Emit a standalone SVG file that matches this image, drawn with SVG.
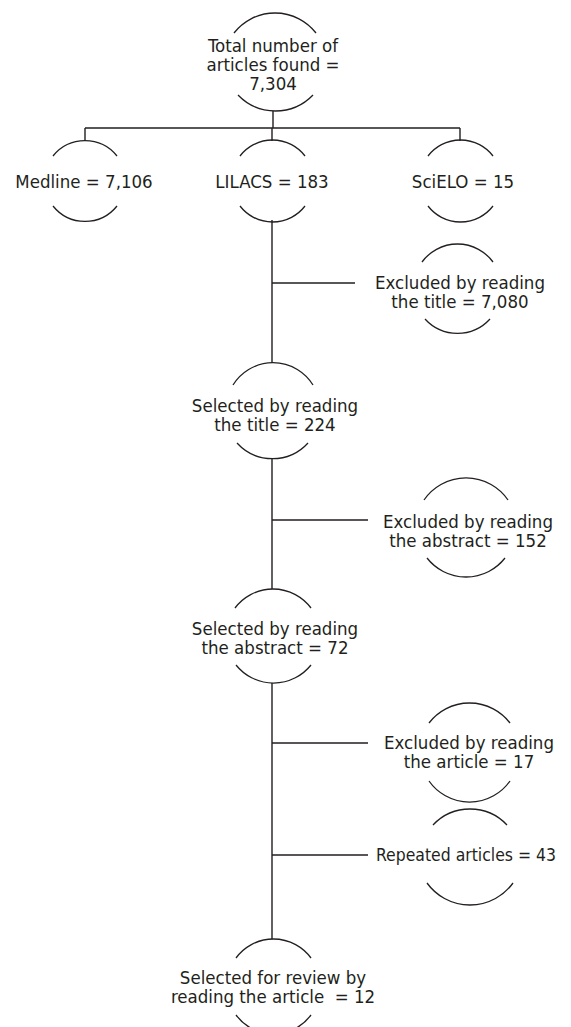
<svg xmlns="http://www.w3.org/2000/svg" width="571" height="1027" viewBox="0 0 571 1027">
<style>
.arc{fill:none;stroke:#231f20;stroke-width:1.3}
.ln{fill:none;stroke:#231f20;stroke-width:1.4}
text{font-family:"DejaVu Sans Condensed","DejaVu Sans",sans-serif;font-stretch:condensed;font-size:18.5px;fill:#231f20;text-anchor:middle}
</style>
<rect width="571" height="1027" fill="#fff"/>
<g id="connectors">
<path class="ln" d="M273,111 V128 M85,128 H460 M85,128 V141 M272,128 V141 M460,128 V141"/>
<path class="ln" d="M272,220 V363 M272,283 H355"/>
<path class="ln" d="M272,458 V589 M272,520 H368"/>
<path class="ln" d="M272,683 V939 M272,743 H368 M272,855 H368"/>
</g>
<g id="n-total">
<path class="arc" d="M234,33 A52,52 0 0 1 316,33"/>
<path class="arc" d="M238,95 A52,52 0 0 0 313,95"/>
<text x="273" y="52">Total number of</text>
<text x="273" y="71">articles found =</text>
<text x="273" y="90">7,304</text>
</g>
<g id="n-medline">
<path class="arc" d="M53,156 A41,41 0 0 1 117,156"/>
<path class="arc" d="M53,206 A41,41 0 0 0 117,206"/>
<text x="84" y="188">Medline = 7,106</text>
</g>
<g id="n-lilacs">
<path class="arc" d="M240,156 A41,41 0 0 1 305,156"/>
<path class="arc" d="M240,206 A41,41 0 0 0 305,206"/>
<text x="272" y="188">LILACS = 183</text>
</g>
<g id="n-scielo">
<path class="arc" d="M428,156 A41,41 0 0 1 493,156"/>
<path class="arc" d="M428,206 A41,41 0 0 0 493,206"/>
<text x="463" y="188">SciELO = 15</text>
</g>
<g id="n-excl-title">
<path class="arc" d="M422,262 A44,44 0 0 1 493,262"/>
<path class="arc" d="M425,319 A44,44 0 0 0 490,319"/>
<text x="460" y="289">Excluded by reading</text>
<text x="460" y="308">the title = 7,080</text>
</g>
<g id="n-sel-title">
<path class="arc" d="M233,385 A47,47 0 0 1 313,385"/>
<path class="arc" d="M237,443 A48,48 0 0 0 308,443"/>
<text x="275" y="412">Selected by reading</text>
<text x="275" y="431">the title = 224</text>
</g>
<g id="n-excl-abstract">
<path class="arc" d="M424,500 A51,51 0 0 1 508,500"/>
<path class="arc" d="M427,558 A49.5,49.5 0 0 0 505,558"/>
<text x="468" y="528">Excluded by reading</text>
<text x="468" y="547">the abstract = 152</text>
</g>
<g id="n-sel-abstract">
<path class="arc" d="M235,608 A47.5,47.5 0 0 1 311,608"/>
<path class="arc" d="M236,665 A48,48 0 0 0 311,665"/>
<text x="275" y="635">Selected by reading</text>
<text x="275" y="654">the abstract = 72</text>
</g>
<g id="n-excl-article">
<path class="arc" d="M429,723 A51,51 0 0 1 510,723"/>
<path class="arc" d="M429,781 A49.5,49.5 0 0 0 510,781"/>
<text x="469" y="749">Excluded by reading</text>
<text x="469" y="768">the article = 17</text>
</g>
<g id="n-repeated">
<path class="arc" d="M433,825 A50.8,50.8 0 0 1 507,825"/>
<path class="arc" d="M427,883 A53,53 0 0 0 513,883"/>
<text x="466" y="861" textLength="180" lengthAdjust="spacingAndGlyphs">Repeated articles = 43</text>
</g>
<g id="n-final">
<path class="arc" d="M236,958 A46.5,46.5 0 0 1 311,958"/>
<path class="arc" d="M236,1015 A46.5,46.5 0 0 0 311,1015"/>
<text x="273" y="984">Selected for review by</text>
<text x="273" y="1003" xml:space="preserve">reading the article  = 12</text>
</g>
</svg>
